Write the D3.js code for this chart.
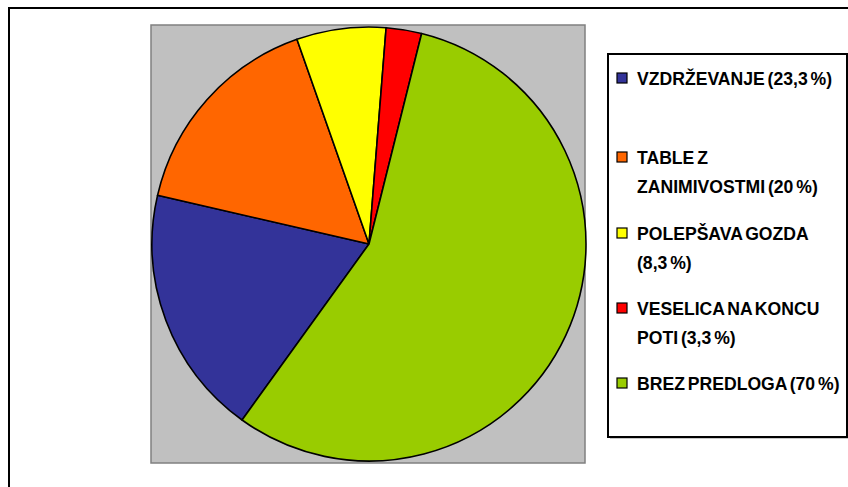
<!DOCTYPE html>
<html>
<head>
<meta charset="utf-8">
<script src="https://cdn.jsdelivr.net/npm/d3@7"></script>
<style>
  body { margin: 0; background: #fff; }
  .legend-label { font-family: "Liberation Sans", Arial, sans-serif; font-weight: bold; font-size: 17.6px; word-spacing: -2px; fill: #000; }
</style>
</head>
<body>
<svg id="chart"></svg>
<script>
// data, legend order
const categories = ['VZDRŽEVANJE', 'TABLE Z ZANIMIVOSTMI', 'POLEPŠAVA GOZDA', 'VESELICA NA KONCU POTI', 'BREZ PREDLOGA'];
const values = [23.3, 20, 8.3, 3.3, 70];
const colors = ['#333399', '#ff6600', '#ffff00', '#ff0000', '#99cc00'];
// legend text lines as shown in the picture
const legendLines = [
  ['VZDRŽEVANJE (23,3 %)'],
  ['TABLE Z', 'ZANIMIVOSTMI (20 %)'],
  ['POLEPŠAVA GOZDA', '(8,3 %)'],
  ['VESELICA NA KONCU', 'POTI (3,3 %)'],
  ['BREZ PREDLOGA (70 %)']
];

const width = 848, height = 487;

const svg = d3.select('#chart')
    .attr('width', width)
    .attr('height', height);

// outer chart frame (runs off the right/bottom edge)
svg.append('rect')
    .attr('x', 9).attr('y', 8)
    .attr('width', 900).attr('height', 600)
    .attr('fill', '#fff')
    .attr('stroke', '#000')
    .attr('stroke-width', 2);

// plot area
const plot = {x: 151, y: 25, w: 434, h: 438};
svg.append('rect')
    .attr('x', plot.x).attr('y', plot.y)
    .attr('width', plot.w).attr('height', plot.h)
    .attr('fill', '#c0c0c0')
    .attr('stroke', '#808080')
    .attr('stroke-width', 1.5);

const cx = 369, cy = 244, r = 217;

const startDeg = 215.8;
const pie = d3.pie()
    .sort(null)
    .value(d => d)
    .startAngle(startDeg * Math.PI / 180)
    .endAngle((startDeg + 360) * Math.PI / 180);

const arc = d3.arc()
    .innerRadius(0)
    .outerRadius(r);

const pieG = svg.append('g')
    .attr('transform', `translate(${cx},${cy})`);

pieG.selectAll('path')
    .data(pie(values))
    .join('path')
    .attr('d', arc)
    .attr('fill', (d, i) => colors[i])
    .attr('stroke', '#000')
    .attr('stroke-width', 1.6)
    .attr('stroke-linejoin', 'round');

// legend box
const lg = {x: 608, y: 54, w: 239, h: 383};
svg.append('rect')
    .attr('x', lg.x + 2).attr('y', lg.y + 2)
    .attr('width', lg.w).attr('height', lg.h)
    .attr('fill', '#c8c8c8');
svg.append('rect')
    .attr('x', lg.x).attr('y', lg.y)
    .attr('width', lg.w).attr('height', lg.h)
    .attr('fill', '#fff')
    .attr('stroke', '#000')
    .attr('stroke-width', 2);

// y centre of the first line of each entry
const itemY = [78, 157, 233, 308, 383];
const lineGap = 29;

const items = svg.selectAll('.legend-item')
    .data(categories)
    .join('g')
    .attr('class', 'legend-item')
    .attr('transform', (d, i) => `translate(${lg.x + 9},${itemY[i]})`);

items.append('rect')
    .attr('x', 0).attr('y', -5)
    .attr('width', 10).attr('height', 10)
    .attr('fill', (d, i) => colors[i])
    .attr('stroke', '#000')
    .attr('stroke-width', 1.2);

items.each(function(d, i) {
  const g = d3.select(this);
  legendLines[i].forEach((line, j) => {
    g.append('text')
        .attr('class', 'legend-label')
        .attr('x', 20)
        .attr('y', j * lineGap + 6.5)
        .text(line);
  });
});
</script>
</body>
</html>
